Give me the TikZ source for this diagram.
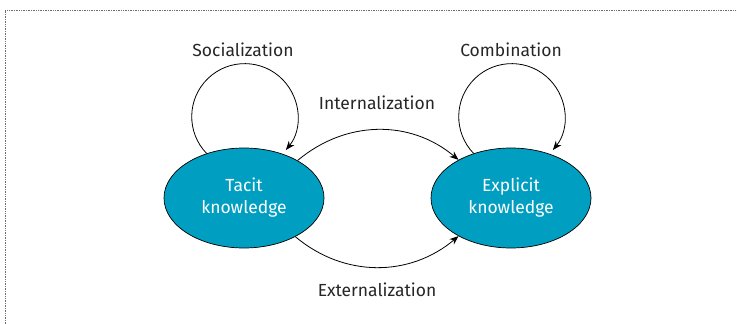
\documentclass[tikz,border=0pt]{standalone}
\usepackage{fontspec}
\setmainfont{Fira Sans}
\usetikzlibrary{shapes.geometric,arrows.meta}
\definecolor{knowteal}{RGB}{0,159,194}
\definecolor{framegray}{RGB}{110,110,110}
\tikzset{
  knowbox/.style={ellipse, draw=black, line width=0.7pt, fill=knowteal,
    minimum width=160pt, minimum height=100pt, inner sep=0pt,
    text=white, align=center, font=\fontsize{17.5}{22}\selectfont},
  flow/.style={line width=0.8pt, -{Stealth[length=9pt,width=7pt]}},
  lbl/.style={font=\fontsize{17.5}{20}\selectfont, text=black!85},
}
\begin{document}
\begin{tikzpicture}[x=1pt,y=-1pt]
  \useasboundingbox (0,0) rectangle (737,324);
  % dotted frame, open on the right and bottom
  \draw[framegray, densely dotted, line width=0.7pt] (5,324) -- (5,10) -- (737,10);

  % the two knowledge states
  \node[knowbox] (tacit) at (244,198) {Tacit\\knowledge};
  \node[knowbox] (explicit) at (511,198) {Explicit\\knowledge};

  % self loops (y axis points down, so angles run clockwise)
  \draw[flow] (tacit.130) arc[start angle=136, end angle=399, radius=53];
  \draw[flow] (explicit.130) arc[start angle=136, end angle=399, radius=53];

  % transitions between the states
  \draw[flow] (tacit.35) to[out=40, in=140] (explicit.144);
  \draw[flow] (tacit.-37) to[out=-40, in=-140] (explicit.216);

  % labels
  \node[lbl] (soc) at (243,50) {Socialization};
  \node[lbl] (comb) at (511,50) {Combination};
  \node[lbl] (intl) at (377,103) {Internalization};
  \node[lbl] (extl) at (377,290) {Externalization};
\end{tikzpicture}
\end{document}
